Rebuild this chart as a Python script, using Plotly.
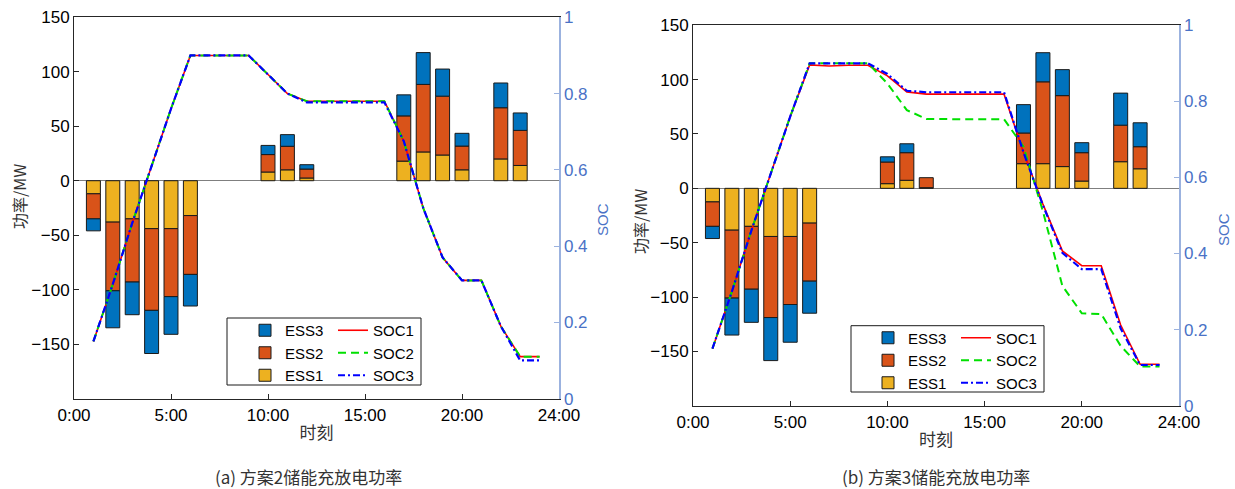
import plotly.graph_objects as go

W, H = 1235, 489

bar_hours = list(range(1, 24))
soc_hours = list(range(1, 25))

tick_vals = [0, 5, 10, 15, 20, 25]
tick_text = ["0:00", "5:00", "10:00", "15:00", "20:00", "24:00"]
mw_ticks = [-150, -100, -50, 0, 50, 100, 150]
soc_ticks = [0, 0.2, 0.4, 0.6, 0.8, 1]

# ---- (a) scheme 2 ----
ess1_a = [-12, -38, -35, -44, -44, -32, 0, 0, 0, 8, 10, 2.5, 0, 0, 0, 0, 18, 26.4, 23.6, 10, 0, 20, 14]
ess2_a = [-23, -63, -58, -75, -62.4, -54, 0, 0, 0, 16, 21.6, 8.2, 0, 0, 0, 0, 41.5, 62, 54, 21.8, 0, 47, 32.2]
ess3_a = [-11, -34, -30, -39.6, -34.6, -29, 0, 0, 0, 8.4, 10.7, 4, 0, 0, 0, 0, 19.3, 29.2, 24.9, 11.7, 0, 22.7, 16]
soc1_a = [0.15, 0.30, 0.46, 0.61, 0.76, 0.90, 0.90, 0.90, 0.90, 0.85, 0.80, 0.78, 0.78, 0.78, 0.78, 0.78,
          0.675, 0.50, 0.37, 0.31, 0.31, 0.19, 0.11, 0.11]
soc2_a = [0.15, 0.30, 0.46, 0.61, 0.76, 0.90, 0.90, 0.90, 0.90, 0.85, 0.80, 0.78, 0.78, 0.78, 0.78, 0.78,
          0.675, 0.50, 0.37, 0.31, 0.31, 0.19, 0.11, 0.11]
soc3_a = [0.15, 0.30, 0.46, 0.61, 0.76, 0.90, 0.90, 0.90, 0.90, 0.85, 0.80, 0.777, 0.777, 0.777, 0.777, 0.777,
          0.675, 0.50, 0.37, 0.31, 0.31, 0.19, 0.10, 0.10]

# ---- (b) scheme 3 ----
ess1_b = [-12.5, -38.5, -35, -44.3, -44.3, -32, 0, 0, 0, 4.3, 7.4, 0.6, 0, 0, 0, 0, 22.7, 22.7, 20, 6.7, 0, 24.5, 18]
ess2_b = [-22.5, -62.5, -57.8, -74.6, -62.6, -53.4, 0, 0, 0, 19.9, 25.4, 9.2, 0, 0, 0, 0, 28.2, 75.3, 65.3, 26.1, 0, 33.6, 20.3]
ess3_b = [-11.2, -34, -30.5, -39.6, -34.7, -29.5, 0, 0, 0, 4.8, 8.2, 0, 0, 0, 0, 0, 26.1, 26.8, 23.9, 9.2, 0, 29.5, 22]
soc1_b = [0.15, 0.30, 0.46, 0.61, 0.76, 0.896, 0.893, 0.895, 0.895, 0.867, 0.825, 0.819, 0.819, 0.819, 0.819, 0.819,
          0.666, 0.53, 0.407, 0.368, 0.368, 0.212, 0.109, 0.109]
soc2_b = [0.15, 0.30, 0.46, 0.61, 0.76, 0.90, 0.90, 0.90, 0.90, 0.847, 0.777, 0.754, 0.753, 0.753, 0.753, 0.753,
          0.681, 0.511, 0.315, 0.243, 0.241, 0.157, 0.103, 0.103]
soc3_b = [0.15, 0.30, 0.46, 0.61, 0.76, 0.90, 0.90, 0.90, 0.90, 0.872, 0.828, 0.824, 0.824, 0.824, 0.824, 0.824,
          0.666, 0.527, 0.402, 0.359, 0.359, 0.203, 0.107, 0.107]

captions = ["(a) 方案2储能充放电功率", "(b) 方案3储能充放电功率"]

ESS_COLORS = {"ESS1": "#EDB120", "ESS2": "#D95319", "ESS3": "#0072BD"}
SOC_STYLES = {
    "SOC1": dict(color="#FF0000", width=1.6, dash="solid"),
    "SOC2": dict(color="#00E000", width=2, dash="8px,5px"),
    "SOC3": dict(color="#0000FF", width=2.2, dash="7px,3px,2px,3px"),
}

FONT = "Liberation Sans, Arial, Noto Sans CJK SC, sans-serif"
CJK = "Noto Sans CJK SC, Liberation Sans, sans-serif"
AX = "#262626"
SOC_TXT = "#4a72c6"
SOC_LINE = "#9bb2df"
LEG_FS = 15


def nz(vals):
    return [v if v != 0 else None for v in vals]


fig = go.Figure()

panels = [
    dict(x="x", y="y", y2="y2", ess=(ess1_a, ess2_a, ess3_a), soc=(soc1_a, soc2_a, soc3_a),
         lg1="legend", lg2="legend2"),
    dict(x="x2", y="y3", y2="y4", ess=(ess1_b, ess2_b, ess3_b), soc=(soc1_b, soc2_b, soc3_b),
         lg1="legend3", lg2="legend4"),
]

for p in panels:
    for name, vals in zip(["ESS1", "ESS2", "ESS3"], p["ess"]):
        fig.add_trace(go.Bar(
            x=bar_hours, y=nz(vals), name=name, width=0.72,
            marker=dict(color=ESS_COLORS[name], line=dict(color="#1a1a1a", width=1)),
            xaxis=p["x"], yaxis=p["y"], legend=p["lg1"],
        ))
    for name, vals in zip(["SOC1", "SOC2", "SOC3"], p["soc"]):
        fig.add_trace(go.Scatter(
            x=soc_hours, y=vals, name=name, mode="lines",
            line=SOC_STYLES[name],
            xaxis=p["x"], yaxis=p["y2"], legend=p["lg2"],
        ))

# geometry (pixels)
L = dict(x0=74, x1=559, top=17.3, bot=398.6)
R = dict(x0=693, x1=1179, top=25.3, bot=405.7)


def xdom(g):
    return [g["x0"] / W, g["x1"] / W]


def ydom(g):
    return [1 - g["bot"] / H, 1 - g["top"] / H]


def xaxis_cfg(g, anchor):
    return dict(domain=xdom(g), range=[0, 25], tickvals=tick_vals, ticktext=tick_text,
                ticks="inside", ticklen=5, tickcolor=AX, showline=True, linecolor=AX, linewidth=1,
                mirror=True, showgrid=False, zeroline=False, anchor=anchor, automargin=False,
                ticklabelstandoff=1,
                tickfont=dict(size=17, color="#000000", family=FONT),
                title=dict(text="时刻", font=dict(size=17, color="#333333", family=CJK), standoff=3))


def yaxis_cfg(g, anchor):
    return dict(domain=ydom(g), range=[-200, 150], tickvals=mw_ticks, ticks="inside", ticklen=5,
                tickcolor=AX, showline=True, linecolor=AX, linewidth=1, showgrid=False,
                zeroline=True, zerolinecolor="#7f7f7f", zerolinewidth=1.5, anchor=anchor,
                automargin=False, tickfont=dict(size=17, color="#000000", family=FONT))


def socaxis_cfg(over, anchor):
    return dict(overlaying=over, side="right", range=[0, 1], tickvals=soc_ticks, ticks="inside",
                ticklen=5, tickcolor=SOC_LINE, showline=True, linecolor=SOC_LINE, linewidth=1.5,
                showgrid=False, zeroline=False, anchor=anchor, automargin=False,
                tickfont=dict(size=17, color=SOC_TXT, family=FONT))


def legend_cfg(px, py, reverse):
    return dict(x=px / W, y=1 - py / H, xanchor="left", yanchor="top", bgcolor="rgba(0,0,0,0)",
                borderwidth=0, font=dict(size=LEG_FS, color="#000000", family=FONT),
                traceorder="reversed" if reverse else "normal", itemwidth=30, tracegroupgap=0)


annotations = [
    dict(text="功率/MW", x=19 / W, y=1 - 197 / H, textangle=-90, font=dict(size=16, color="#333333", family=CJK)),
    dict(text="功率/MW", x=640 / W, y=1 - 222 / H, textangle=-90, font=dict(size=16, color="#333333", family=CJK)),
    dict(text="SOC", x=603 / W, y=1 - 220 / H, textangle=-90, font=dict(size=15, color=SOC_TXT, family=FONT)),
    dict(text="SOC", x=1223 / W, y=1 - 230 / H, textangle=-90, font=dict(size=15, color=SOC_TXT, family=FONT)),
    dict(text=captions[0], x=308 / W, y=1 - 476 / H, font=dict(size=17, color="#333333", family=CJK)),
    dict(text=captions[1], x=936 / W, y=1 - 476 / H, font=dict(size=17, color="#333333", family=CJK)),
]
for a in annotations:
    a.update(xref="paper", yref="paper", showarrow=False, xanchor="center", yanchor="middle")

shapes = [
    dict(type="rect", xref="paper", yref="paper", x0=227 / W, x1=421 / W, y0=1 - 385 / H, y1=1 - 318 / H,
         line=dict(color="#1a1a1a", width=1), fillcolor="rgba(255,255,255,1)", layer="above"),
    dict(type="rect", xref="paper", yref="paper", x0=851 / W, x1=1044 / W, y0=1 - 392 / H, y1=1 - 325.7 / H,
         line=dict(color="#1a1a1a", width=1), fillcolor="rgba(255,255,255,1)", layer="above"),
]

fig.update_layout(
    width=W, height=H, margin=dict(l=0, r=0, t=0, b=0, autoexpand=False),
    paper_bgcolor="white", plot_bgcolor="white",
    barmode="relative", hovermode=False,
    font=dict(family=FONT, size=17, color="#000000"),
    xaxis=xaxis_cfg(L, "y"), yaxis=yaxis_cfg(L, "x"), yaxis2=socaxis_cfg("y", "x"),
    xaxis2=xaxis_cfg(R, "y3"), yaxis3=yaxis_cfg(R, "x2"), yaxis4=socaxis_cfg("y3", "x2"),
    legend=legend_cfg(245, 314, True), legend2=legend_cfg(333, 314, False),
    legend3=legend_cfg(868, 321.5, True), legend4=legend_cfg(956, 321.5, False),
    annotations=annotations, shapes=shapes,
)

fig.write_html(
    "out.html",
    config={"displayModeBar": False, "staticPlot": True},
    post_script="document.body.style.margin='0';document.body.style.padding='0';"
                "document.documentElement.style.margin='0';",
)
